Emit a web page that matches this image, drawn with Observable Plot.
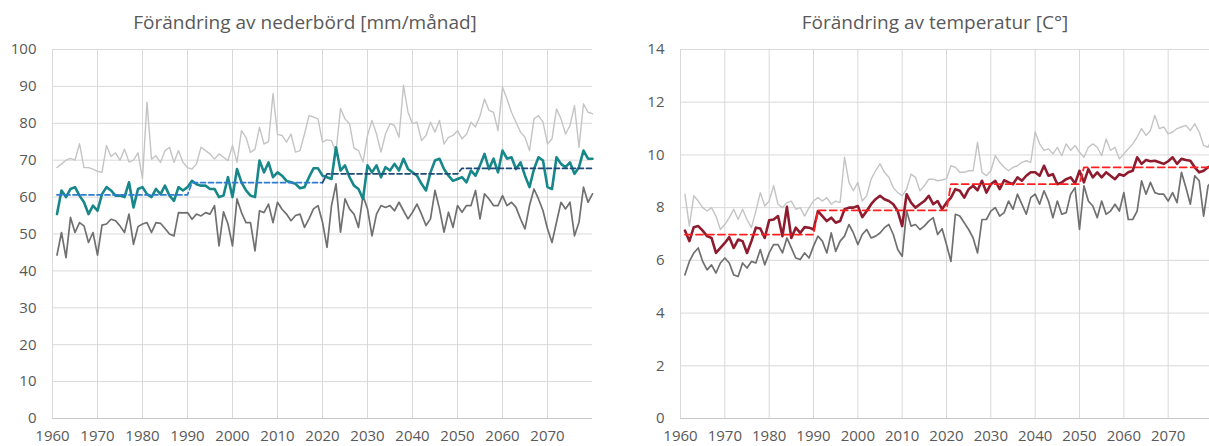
<!DOCTYPE html>
<html>
<head>
<meta charset="utf-8">
<script src="https://cdn.jsdelivr.net/npm/d3@7"></script>
<script src="https://cdn.jsdelivr.net/npm/@observablehq/plot@0.6"></script>
<style>
  html, body { margin: 0; padding: 0; background: #ffffff; width: 1209px; height: 446px; overflow: hidden; }
  #wrap { position: relative; width: 1209px; height: 446px; overflow: hidden; }
  .panel { position: absolute; top: 0; }
  .title { font-family: "Open Sans", sans-serif; font-size: 19px; color: #595959; text-align: center;
           height: 38px; line-height: 32px; padding-top: 6px; box-sizing: border-box; white-space: nowrap; }
  svg { display: block; }
</style>
</head>
<body>
<div id="wrap">
  <div class="panel" id="p1" style="left:0px;width:600px">
    <div class="title" style="width:600px;padding-left:10px">Förändring av nederbörd [mm/månad]</div>
  </div>
  <div class="panel" id="p2" style="left:600px;width:609px">
    <div class="title" style="width:609px;padding-left:61px">Förändring av temperatur [C°]</div>
  </div>
</div>
<script>
// ---------- data ----------
const years = d3.range(1961, 2081);               // 120 yearly categories
const xTicks = [1960, 1970, 1980, 1990, 2000, 2010, 2020, 2030, 2040, 2050, 2060, 2070];
const precipTicks = [0, 10, 20, 30, 40, 50, 60, 70, 80, 90, 100];
const tempTicks = [0, 2, 4, 6, 8, 10, 12, 14];
const periods = [[1961, 1990], [1991, 2020], [2021, 2050], [2051, 2080]];

const precipHigh = [
  68, 69, 70, 70.5, 70, 74.5, 68, 68, 67.6, 67,
  66.7, 74, 71, 72, 70, 73, 69.5, 70, 72, 65,
  85.7, 70.3, 71.2, 69.4, 72.6, 73.5, 69.4, 72.6, 69.4, 68,
  67.6, 69, 73.5, 72.6, 71.7, 70.3, 71.7, 70.8, 69.9, 74,
  69.4, 78, 76.2, 72.1, 73, 78.9, 74.4, 75, 88, 77,
  76.7, 74.9, 77.1, 72.2, 72.6, 77.1, 82.1, 81.7, 81.2, 74.9,
  75.5, 75.3, 72.2, 84, 81.2, 79.9, 73.3, 72.6, 69.5, 76.7,
  80.8, 77.1, 72.2, 77.1, 79.9, 79.4, 76.2, 90.3, 83, 79.9,
  80.3, 75.3, 76.7, 80.3, 77.6, 80.8, 74.4, 76.2, 76.7, 78,
  75.8, 77, 80.3, 79, 82, 86.6, 83.5, 83, 78, 89.8,
  86.6, 83, 80.3, 77.6, 76.2, 72.6, 81.2, 82.1, 80.3, 74.4,
  75.8, 83.9, 81.2, 77.1, 79.4, 84.8, 73.5, 85.3, 83, 82.6
];
const precipMid = [
  55.4, 61.8, 60, 62.2, 62.7, 60.4, 58.6, 55.4, 57.7, 56.3,
  60.8, 62.7, 61.8, 60.4, 60.4, 60, 64, 57.2, 62.2, 62.7,
  60.8, 60, 62.2, 60.8, 63.1, 60.4, 59, 62.7, 61.8, 62.7,
  64.4, 63.5, 63.1, 63.1, 62.2, 62.2, 60, 60.4, 65.4, 60,
  67.6, 64, 61.8, 60.4, 60, 69.9, 66.7, 69.4, 65.4, 66.7,
  65.8, 64.4, 64, 63.6, 62.4, 62.7, 65.4, 67.8, 67.8, 65.8,
  65.4, 64.9, 73.5, 67.2, 68.6, 65.4, 63.1, 62.2, 59.5, 68.6,
  66.7, 68.6, 65.4, 68.1, 67.2, 69, 67.2, 70.4, 67.6, 66.7,
  65.8, 63.6, 61.8, 66.7, 69.9, 70.4, 67.6, 65.8, 64.4, 64.9,
  65.4, 64, 67.2, 65.8, 68.6, 71.7, 67.6, 70.4, 66.7, 72.6,
  70.4, 70.8, 67.6, 69.4, 65.8, 62.7, 67.6, 70.8, 69.9, 62.7,
  62.2, 70.8, 69, 68.1, 69.4, 66.3, 68.1, 72.6, 70.4, 70.4
];
const precipLow = [
  44.3, 50.4, 43.6, 54.5, 50.4, 53.1, 52.2, 47.7, 50.4, 44.3,
  52.4, 52.7, 54, 53.6, 52.2, 50.4, 55.4, 47.2, 52, 52.7,
  53.1, 50.4, 53.1, 52.9, 51.5, 50, 49.5, 55.8, 55.7, 55.8,
  54, 55.4, 54.9, 55.8, 55.4, 57.7, 46.8, 56, 52.7, 46.8,
  59.5, 55.8, 53.1, 53.1, 45.4, 56.3, 55.8, 58.1, 53.1, 58.6,
  56.7, 55.4, 53.6, 55, 55.4, 51.8, 54.1, 56.8, 57.7, 53.2,
  46.4, 57.7, 63.6, 50.5, 59.5, 56.8, 55.4, 51.8, 60.4, 56.8,
  49.5, 55.4, 57.7, 57.2, 57.7, 56.3, 58.6, 56.3, 54.1, 55.9,
  58.1, 55.4, 52.3, 54.1, 61.8, 56.8, 50.5, 55.9, 51.8, 57.7,
  55.9, 57.7, 57.7, 61.8, 54.1, 60.9, 59.5, 57.7, 57.7, 60.4,
  57.7, 58.6, 57.2, 54.1, 51.4, 57.7, 62.2, 59.5, 56.3, 51.4,
  47.7, 53.2, 58.6, 56.8, 58.6, 49.5, 53.2, 62.7, 58.6, 60.9
];
const precipPeriodMean = [60.6, 63.9, 66.3, 67.8];

const tempHigh = [
  8.51, 7.3, 8.45, 8.25, 8.0, 7.87, 8.0, 7.68, 7.17, 7.36,
  7.62, 7.94, 7.55, 7.94, 7.55, 7.24, 7.87, 8.57, 8.06, 8.25,
  8.83, 8.13, 8.0, 8.19, 8.25, 7.94, 8.0, 7.68, 8.0, 8.25,
  8.38, 8.25, 8.38, 8.13, 8.25, 8.19, 9.91, 8.96, 8.64, 8.96,
  8.25, 8.45, 9.08, 9.4, 9.66, 9.34, 9.15, 8.76, 8.57, 8.45,
  8.7, 9.27, 9.15, 8.64, 8.83, 9.08, 9.08, 9.02, 9.05, 9.1,
  9.59, 9.53, 9.34, 9.34, 9.4, 9.4, 10.48, 9.34, 9.21, 9.4,
  9.97, 9.72, 9.53, 9.4, 9.53, 9.59, 9.72, 9.78, 9.72, 10.87,
  10.42, 10.17, 10.23, 10.04, 10.29, 9.97, 10.42, 10.17, 10.36, 10.1,
  9.91, 10.29, 10.42, 10.29, 9.97, 10.61, 10.17, 10.29, 9.85, 10.04,
  10.23, 10.42, 10.68, 11.0, 10.74, 10.93, 11.5, 11.0, 11.06, 10.8,
  10.87, 11.0, 11.06, 11.12, 10.93, 11.18, 10.87, 10.36, 10.29, 10.68
];
const tempMid = [
  7.13, 6.73, 7.26, 7.3, 7.13, 6.92, 6.85, 6.28, 6.47, 6.66,
  6.88, 6.47, 6.79, 6.73, 6.28, 6.73, 7.24, 7.21, 6.85, 7.52,
  7.55, 7.68, 6.92, 8.03, 6.85, 7.24, 7.04, 7.26, 7.24, 7.17,
  7.87, 7.68, 7.49, 7.62, 7.43, 7.49, 7.94, 8.0, 8.0, 8.06,
  7.64, 7.87, 8.13, 8.32, 8.45, 8.32, 8.25, 8.13, 7.87, 7.3,
  8.51, 8.19, 8.0, 8.13, 8.25, 8.45, 8.13, 8.25, 7.94, 8.19,
  8.38, 8.7, 8.64, 8.38, 8.7, 8.83, 8.66, 9.02, 8.57, 8.89,
  9.02, 8.7, 9.04, 8.96, 8.89, 9.15, 9.02, 9.21, 9.34, 9.34,
  9.21, 9.59, 9.21, 9.27, 8.89, 8.96, 9.08, 9.15, 8.92, 9.4,
  8.96, 9.46, 9.15, 9.34, 9.15, 9.34, 9.21, 9.08, 9.27, 9.21,
  9.34, 9.4, 9.91, 9.66, 9.81, 9.76, 9.78, 9.72, 9.66, 9.76,
  9.91, 9.66, 9.85, 9.81, 9.78, 9.53, 9.34, 9.4, 9.53, 9.59
];
const tempLow = [
  5.45, 5.96, 6.28, 6.47, 5.96, 5.64, 5.83, 5.52, 5.9, 6.09,
  5.9, 5.45, 5.39, 5.9, 5.71, 5.96, 5.9, 6.41, 5.83, 6.28,
  6.6, 6.6, 6.28, 6.85, 6.47, 6.09, 6.03, 6.28, 6.09, 6.54,
  6.92, 6.73, 6.28, 7.04, 6.34, 6.73, 6.92, 7.36, 7.04, 6.6,
  6.98, 7.17, 6.85, 6.92, 7.04, 7.24, 7.36, 6.98, 6.41, 6.15,
  7.87, 7.3, 7.36, 7.17, 7.3, 7.49, 7.62, 6.98, 7.2, 6.6,
  5.96, 7.75, 7.68, 7.43, 7.17, 6.85, 6.28, 7.55, 7.55, 7.87,
  8.0, 7.68, 7.81, 8.25, 7.94, 8.51, 8.13, 7.75, 8.38, 8.51,
  8.13, 8.64, 8.25, 7.62, 8.25, 7.75, 7.81, 8.51, 8.76, 7.17,
  8.83, 8.25, 8.06, 7.62, 8.25, 7.75, 7.87, 8.13, 7.87, 8.57,
  7.55, 7.55, 7.87, 9.02, 8.51, 8.96, 8.57, 8.51, 8.51, 8.25,
  8.57, 8.19, 9.34, 8.76, 8.13, 9.21, 9.02, 7.68, 8.83, 9.02
];
const tempPeriodMean = [6.98, 7.9, 8.89, 9.53];

// ---------- helpers ----------
const series = vals => vals.map((v, i) => ({year: years[i], value: v}));
function stepPoints(means, from, to) {
  const pts = [];
  periods.forEach(([a, b], i) => {
    if (i >= from && i <= to) pts.push({year: a, value: means[i]}, {year: b, value: means[i]});
  });
  return pts;
}
function withLead(means, prev, from, to) {
  const [, b] = periods[prev];
  return [{year: b, value: means[prev]}, ...stepPoints(means, from, to)];
}

function frame({width, marginLeft, marginRight, yTicks, yMax, marks}) {
  return Plot.plot({
    width, height: 408, marginLeft, marginRight, marginTop: 11, marginBottom: 28,
    style: {fontFamily: "'Open Sans', sans-serif", fontSize: "15px", color: "#595959", background: "#ffffff"},
    x: {domain: [1960, 2080]},
    y: {domain: [0, yMax]},
    marks: [
      Plot.gridY(yTicks, {stroke: "#d9d9d9", strokeOpacity: 1, strokeWidth: 1}),
      Plot.gridX(xTicks, {stroke: "#d9d9d9", strokeOpacity: 1, strokeWidth: 1}),
      Plot.ruleY([0], {stroke: "#c8c8c8", strokeWidth: 1}),
      Plot.axisX(xTicks, {tickSize: 0, tickPadding: 12, tickFormat: d => String(d), label: null, fill: "#595959", fontSize: 15}),
      Plot.axisY(yTicks, {tickSize: 0, tickPadding: 16, tickFormat: d => String(d), label: null, fill: "#595959", fontSize: 15}),
      ...marks
    ]
  });
}

// ---------- precipitation ----------
const left = frame({
  width: 600, marginLeft: 52, marginRight: 8, yTicks: precipTicks, yMax: 100,
  marks: [
    Plot.line(series(precipHigh), {x: "year", y: "value", stroke: "#c4c4c4", strokeWidth: 1.4}),
    Plot.line(series(precipLow), {x: "year", y: "value", stroke: "#707070", strokeWidth: 1.7}),
    Plot.line(series(precipMid), {x: "year", y: "value", stroke: "#17878a", strokeWidth: 2.6}),
    Plot.line(stepPoints(precipPeriodMean, 0, 1), {x: "year", y: "value", stroke: "#2e7bd0", strokeWidth: 1.7, strokeDasharray: "5,3"}),
    Plot.line(withLead(precipPeriodMean, 1, 2, 3), {x: "year", y: "value", stroke: "#1f4a78", strokeWidth: 1.7, strokeDasharray: "5,3"})
  ]
});
document.getElementById("p1").appendChild(left);

// ---------- temperature ----------
const right = frame({
  width: 609, marginLeft: 80, marginRight: -3, yTicks: tempTicks, yMax: 14,
  marks: [
    Plot.line(series(tempHigh), {x: "year", y: "value", stroke: "#c4c4c4", strokeWidth: 1.4}),
    Plot.line(series(tempLow), {x: "year", y: "value", stroke: "#707070", strokeWidth: 1.7}),
    Plot.line(series(tempMid), {x: "year", y: "value", stroke: "#8e1b2e", strokeWidth: 2.6}),
    Plot.line(stepPoints(tempPeriodMean, 0, 3), {x: "year", y: "value", stroke: "#ff1f1f", strokeWidth: 1.8, strokeDasharray: "7,4"})
  ]
});
document.getElementById("p2").appendChild(right);
</script>
</body>
</html>
